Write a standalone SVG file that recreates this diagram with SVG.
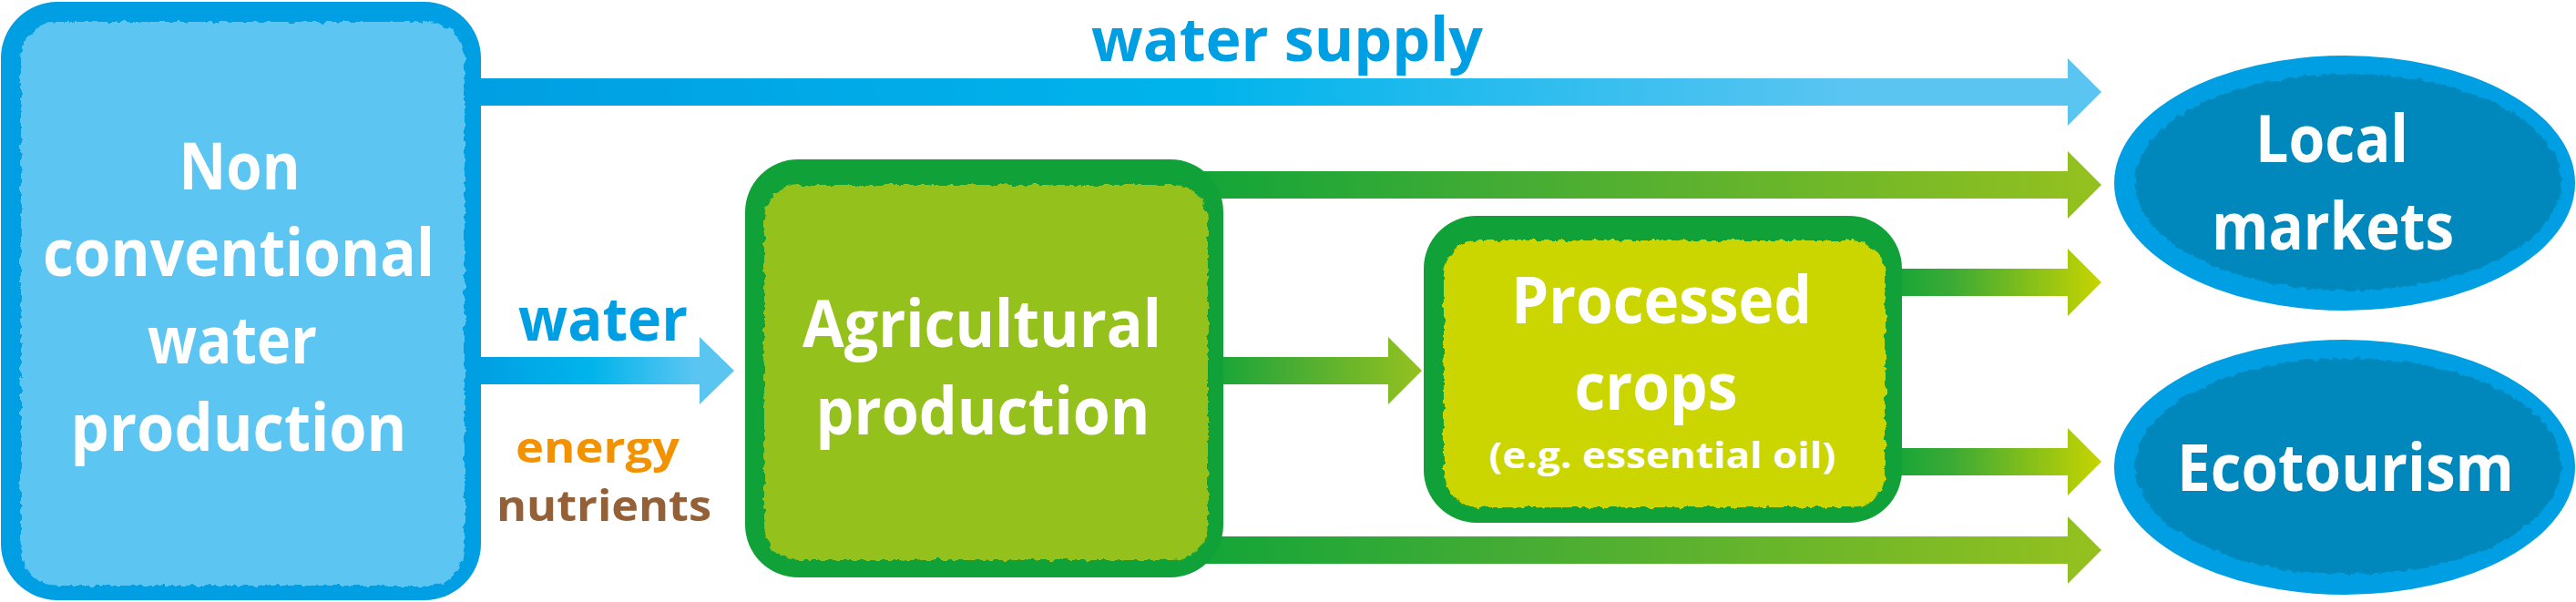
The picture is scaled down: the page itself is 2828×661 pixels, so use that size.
<svg xmlns="http://www.w3.org/2000/svg" width="2828" height="661" viewBox="0 0 2828 661">
<style>
.t{font-family:"Open Sans","Liberation Sans",sans-serif;font-weight:700;text-anchor:middle}
.w{fill:#ffffff;font-size:71px}
.s{fill:#ffffff;font-size:40px}
.lb{fill:#009FE3;font-size:67px}
.en{fill:#F39200;font-size:47px}
.nu{fill:#936037;font-size:47px}
.bb{fill:#009FE3}
.gb{fill:#10A138}
</style>
<defs>
<linearGradient id="gBlue" x1="0" y1="0" x2="1" y2="0">
<stop offset="0" stop-color="#009FE3"/><stop offset="0.45" stop-color="#00B4EB"/><stop offset="0.85" stop-color="#5BC5F2"/><stop offset="1" stop-color="#5BC5F2"/>
</linearGradient>
<linearGradient id="gGreenA" x1="0" y1="0" x2="1" y2="0">
<stop offset="0" stop-color="#13A538"/><stop offset="0.35" stop-color="#45AC34"/><stop offset="1" stop-color="#95C11F"/>
</linearGradient>
<linearGradient id="gGreenB" x1="0" y1="0" x2="1" y2="0">
<stop offset="0" stop-color="#13A538"/><stop offset="0.3" stop-color="#3DAA35"/><stop offset="1" stop-color="#C8D400"/>
</linearGradient>
<filter id="rough" x="-5%" y="-5%" width="110%" height="110%">
<feTurbulence type="fractalNoise" baseFrequency="0.12" numOctaves="3" seed="7" result="n"/>
<feDisplacementMap in="SourceGraphic" in2="n" scale="7" xChannelSelector="R" yChannelSelector="G"/>
</filter>
</defs>
<g id="connectors">
<path id="e-water-supply" fill="url(#gBlue)" d="M520,86 H2270 V64 L2307,101 L2270,138 V116 H520 Z"/>
<path id="e-water" fill="url(#gBlue)" d="M520,392 H768 V370 L806,407 L768,444 V422 H520 Z"/>
<path id="e-agri-local" fill="url(#gGreenA)" d="M1320,188 H2270 V166 L2307,203 L2270,240 V218 H1320 Z"/>
<path id="e-agri-proc" fill="url(#gGreenA)" d="M1330,392 H1524 V370 L1561,407 L1524,444 V422 H1330 Z"/>
<path id="e-proc-local" fill="url(#gGreenB)" d="M2075,295 H2270 V273 L2307,310 L2270,347 V325 H2075 Z"/>
<path id="e-proc-eco" fill="url(#gGreenB)" d="M2075,492 H2270 V470 L2307,507 L2270,544 V522 H2075 Z"/>
<path id="e-agri-eco" fill="url(#gGreenA)" d="M1320,589 H2270 V567 L2307,604 L2270,641 V619 H1320 Z"/>
<text class="t lb" x="1413" y="67" textLength="430" lengthAdjust="spacingAndGlyphs">water supply</text>
<text class="t lb" x="662" y="374" textLength="186" lengthAdjust="spacingAndGlyphs">water</text>
<text class="t en" x="656" y="508" textLength="180" lengthAdjust="spacingAndGlyphs">energy</text>
<text class="t nu" x="663" y="572" textLength="236" lengthAdjust="spacingAndGlyphs">nutrients</text>
</g>
<g id="node-water-production">
<rect class="bb" x="1" y="2" width="527" height="657" rx="62"/>
<rect x="23" y="24" width="487" height="619" rx="40" fill="#5BC5F2" filter="url(#rough)"/>
<text class="t w" x="263" y="208" textLength="133" lengthAdjust="spacingAndGlyphs">Non</text>
<text class="t w" x="262" y="303" textLength="430" lengthAdjust="spacingAndGlyphs">conventional</text>
<text class="t w" x="255" y="399" textLength="186" lengthAdjust="spacingAndGlyphs">water</text>
<text class="t w" x="262" y="495" textLength="369" lengthAdjust="spacingAndGlyphs">production</text>
</g>
<g id="node-agricultural">
<rect class="gb" x="818" y="175" width="525" height="459" rx="58"/>
<rect x="839" y="203" width="487" height="412" rx="38" fill="#95C11F" filter="url(#rough)"/>
<text class="t w" x="1078" y="381" textLength="394" lengthAdjust="spacingAndGlyphs">Agricultural</text>
<text class="t w" x="1079" y="477" textLength="367" lengthAdjust="spacingAndGlyphs">production</text>
</g>
<g id="node-processed">
<rect class="gb" x="1563" y="237" width="525" height="337" rx="58"/>
<rect x="1585" y="264" width="485" height="293" rx="38" fill="#CBD500" filter="url(#rough)"/>
<text class="t w" x="1824" y="355" textLength="330" lengthAdjust="spacingAndGlyphs">Processed</text>
<text class="t w" x="1818" y="450" textLength="179" lengthAdjust="spacingAndGlyphs">crops</text>
<text class="t s" x="1825" y="514" textLength="381" lengthAdjust="spacingAndGlyphs">(e.g. essential oil)</text>
</g>
<g id="node-local-markets">
<ellipse class="bb" cx="2574" cy="201" rx="253" ry="140"/>
<ellipse cx="2578" cy="200" rx="234" ry="119" fill="#0088BC" filter="url(#rough)"/>
<text class="t w" x="2560" y="178" textLength="168" lengthAdjust="spacingAndGlyphs">Local</text>
<text class="t w" x="2561" y="274" textLength="266" lengthAdjust="spacingAndGlyphs">markets</text>
</g>
<g id="node-ecotourism">
<ellipse class="bb" cx="2574" cy="513" rx="253" ry="140"/>
<ellipse cx="2578" cy="512" rx="234" ry="119" fill="#0088BC" filter="url(#rough)"/>
<text class="t w" x="2575" y="539" textLength="370" lengthAdjust="spacingAndGlyphs">Ecotourism</text>
</g>
</svg>
